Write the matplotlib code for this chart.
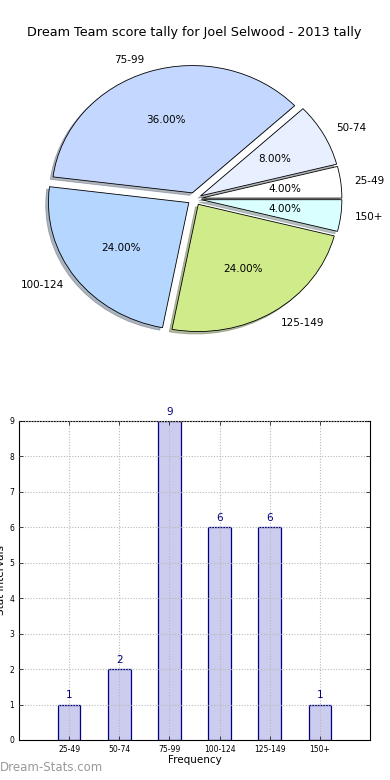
import matplotlib
matplotlib.use("Agg")
import matplotlib.pyplot as plt
import numpy as np

categories = ["25-49", "50-74", "75-99", "100-124", "125-149", "150+"]
counts = [1, 2, 9, 6, 6, 1]
pie_colors = ["#ffffff", "#e8f0ff", "#c4d8ff", "#b4d6ff", "#d0eb8a", "#d9ffff"]
title = "Dream Team score tally for Joel Selwood - 2013 tally"

fig = plt.figure(figsize=(3.9, 7.8), dpi=100)

ax1 = fig.add_axes([0.0487, 0.541, 0.9, 0.408])
wedges, texts, autotexts = ax1.pie(
    counts, labels=categories, colors=pie_colors, explode=[0.05] * len(counts),
    autopct="%1.2f%%", shadow=dict(ox=-0.014, oy=-0.014, shade=0.5),
    startangle=0,
    wedgeprops=dict(edgecolor="black", linewidth=0.6),
    textprops=dict(fontsize=7.5))
ax1.set_aspect("auto")
ax1.set_xlim(-1.25, 1.25)
ax1.set_ylim(-1.25, 1.25)
ax1.set_title(title, fontsize=9.2, pad=3)

ax2 = fig.add_axes([0.0487, 0.0513, 0.9, 0.409])
x = np.arange(len(categories))
bars = ax2.bar(x, counts, width=0.45, color="#ccccee", edgecolor="#000080",
               linewidth=0.9, zorder=1)
ax2.set_xlim(-1, 6)
ax2.set_ylim(0, 9)
ax2.set_xticks(x)
ax2.set_xticklabels(categories, fontsize=5.5)
ax2.set_yticks(range(10))
ax2.tick_params(axis="y", labelsize=5.5)
ax2.tick_params(direction="in", top=True, right=True, length=3, width=0.5)
ax2.grid(True, linestyle=(0, (1, 1.5)), color="#b8b8b8", linewidth=0.8, zorder=2)
ax2.set_axisbelow(False)
for xi, c in zip(x, counts):
    ax2.text(xi, c + 0.12, str(c), ha="center", va="bottom", fontsize=7.5,
             color="#000080")
ax2.set_xlabel("Frequency", fontsize=7.5, labelpad=1)
ax2.set_ylabel("Stat Intervals", fontsize=7.5, labelpad=2)

fig.text(0.0, 0.008, "Dream-Stats.com", fontsize=8.5, color="#999999",
         ha="left", va="bottom")

fig.savefig("out.png", dpi=100)
